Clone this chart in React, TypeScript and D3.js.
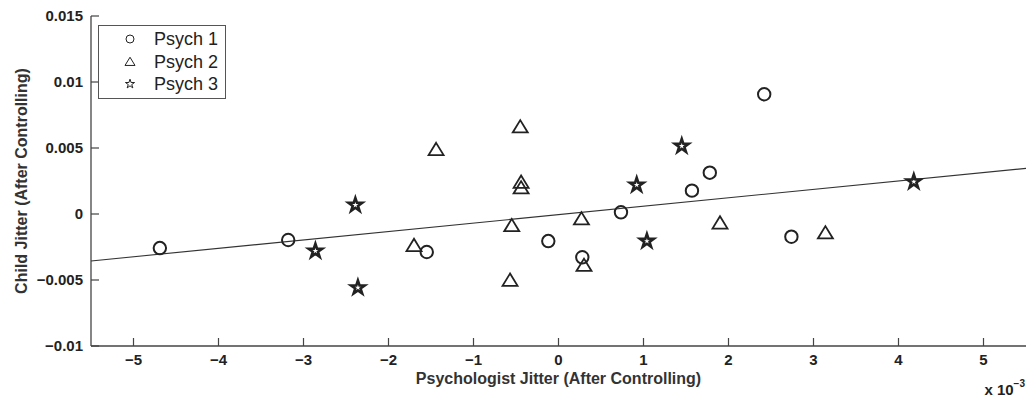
import React, { useEffect, useRef } from "react";
import * as d3 from "d3";

// values in units of 1e-3 (x) and 1e-3 (y)
const psych1X = [-4.69, -3.18, -1.55, -0.12, 0.28, 0.735, 1.57, 1.78, 2.42, 2.74];
const psych1Y = [-2.58, -1.97, -2.88, -2.05, -3.28, 0.13, 1.77, 3.13, 9.07, -1.72];

const psych2X = [-1.44, -1.7, -0.45, -0.44, -0.44, -0.55, -0.57, 0.27, 0.3, 1.9, 3.14];
const psych2Y = [4.85, -2.42, 6.57, 2.37, 1.95, -0.91, -5.05, -0.4, -3.92, -0.71, -1.46];

const psych3X = [-2.39, -2.86, -2.36, 1.45, 0.92, 1.04, 4.18];
const psych3Y = [0.68, -2.8, -5.58, 5.15, 2.2, -2.05, 2.45];

const xTicks = [-5, -4, -3, -2, -1, 0, 1, 2, 3, 4, 5];
const yTicks = [-0.01, -0.005, 0, 0.005, 0.01, 0.015];
const yTickLabels = ["\u22120.01", "\u22120.005", "0", "0.005", "0.01", "0.015"];
const seriesNames = ["Psych 1", "Psych 2", "Psych 3"];

// fitted line (x, y both in 1e-3 units)
const fitSlope = 0.638;
const fitIntercept = -0.05;

const W = 1034;
const H = 405;

function triPath(s: number) {
  const h = s * 0.82;
  return `M0,${-h * 0.58}L${s / 2},${h * 0.42}L${-s / 2},${h * 0.42}Z`;
}

export default function App() {
  const ref = useRef<SVGSVGElement>(null);

  useEffect(() => {
    const node = ref.current;
    if (!node) return;
    const svg = d3.select(node);
    svg.selectAll("*").remove();

    const m = { l: 91, r: 8, t: 16, b: 59 };
    const x = d3.scaleLinear().domain([-5.5, 5.5]).range([m.l, W - m.r]);
    const y = d3.scaleLinear().domain([-0.01, 0.015]).range([H - m.b, m.t]);
    const yk = (v: number) => y(v / 1000);

    const ink = "#222";
    const font = "Arial, 'Liberation Sans', sans-serif";

    // axes (MATLAB style, inward ticks, no box)
    const g = svg.append("g");
    g.append("line")
      .attr("x1", m.l).attr("x2", m.l)
      .attr("y1", y(0.015)).attr("y2", y(-0.01))
      .attr("stroke", "#444").attr("stroke-width", 1.3);
    g.append("line")
      .attr("x1", m.l).attr("x2", W - m.r)
      .attr("y1", y(-0.01)).attr("y2", y(-0.01))
      .attr("stroke", "#444").attr("stroke-width", 1.3);

    g.selectAll("line.yt").data(yTicks).enter().append("line")
      .attr("class", "yt")
      .attr("x1", m.l).attr("x2", m.l + 8)
      .attr("y1", d => y(d)).attr("y2", d => y(d))
      .attr("stroke", "#444").attr("stroke-width", 1.2);
    g.selectAll("text.yl").data(yTicks).enter().append("text")
      .attr("class", "yl")
      .attr("x", m.l - 8)
      .attr("y", d => y(d))
      .attr("dy", "0.35em")
      .attr("text-anchor", "end")
      .attr("font-family", font).attr("font-size", 15).attr("font-weight", "bold")
      .attr("fill", ink)
      .text((d, i) => yTickLabels[i]);

    g.selectAll("line.xt").data(xTicks).enter().append("line")
      .attr("class", "xt")
      .attr("x1", d => x(d)).attr("x2", d => x(d))
      .attr("y1", y(-0.01)).attr("y2", y(-0.01) - 8)
      .attr("stroke", "#444").attr("stroke-width", 1.2);
    g.selectAll("text.xl").data(xTicks).enter().append("text")
      .attr("class", "xl")
      .attr("x", d => x(d))
      .attr("y", y(-0.01) + 19)
      .attr("text-anchor", "middle")
      .attr("font-family", font).attr("font-size", 15).attr("font-weight", "bold")
      .attr("fill", ink)
      .text(d => (d < 0 ? "\u2212" + Math.abs(d) : String(d)));

    // multiplier
    const mult = svg.append("text")
      .attr("x", W - 9).attr("y", 395)
      .attr("text-anchor", "end")
      .attr("font-family", font).attr("font-size", 15).attr("font-weight", "bold")
      .attr("fill", ink);
    mult.append("tspan").text("x 10");
    mult.append("tspan").attr("dy", -8).attr("font-size", 10).text("\u22123");

    // axis titles
    svg.append("text")
      .attr("x", (x(-5.5) + x(5.5)) / 2)
      .attr("y", 384)
      .attr("text-anchor", "middle")
      .attr("font-family", font).attr("font-size", 16).attr("font-weight", "bold")
      .attr("fill", "#333")
      .text("Psychologist Jitter (After Controlling)");
    svg.append("text")
      .attr("transform", `translate(27, ${(y(-0.01) + y(0.015)) / 2}) rotate(-90)`)
      .attr("text-anchor", "middle")
      .attr("font-family", font).attr("font-size", 16).attr("font-weight", "bold")
      .attr("fill", "#333")
      .text("Child Jitter (After Controlling)");

    // fit line
    svg.append("line")
      .attr("x1", x(-5.5)).attr("y1", yk(fitSlope * -5.5 + fitIntercept))
      .attr("x2", x(5.5)).attr("y2", yk(fitSlope * 5.5 + fitIntercept))
      .attr("stroke", "#333").attr("stroke-width", 1.1);

    const pts = svg.append("g").attr("fill", "none").attr("stroke", ink);

    pts.selectAll("circle.p1").data(psych1X).enter().append("circle")
      .attr("class", "p1")
      .attr("cx", d => x(d))
      .attr("cy", (d, i) => yk(psych1Y[i]))
      .attr("r", 6.2)
      .attr("stroke-width", 2);

    pts.selectAll("path.p2").data(psych2X).enter().append("path")
      .attr("class", "p2")
      .attr("transform", (d, i) => `translate(${x(d)},${yk(psych2Y[i])})`)
      .attr("d", triPath(15))
      .attr("stroke-width", 1.8);

    const star = d3.symbol().type(d3.symbolStar).size(58);
    pts.selectAll("path.p3").data(psych3X).enter().append("path")
      .attr("class", "p3")
      .attr("transform", (d, i) => `translate(${x(d)},${yk(psych3Y[i])})`)
      .attr("d", star() as string)
      .attr("stroke-width", 2.6)
      .attr("stroke-linejoin", "miter");

    // legend
    const lg = svg.append("g");
    lg.append("rect")
      .attr("x", 98.5).attr("y", 25.5).attr("width", 127).attr("height", 73)
      .attr("fill", "white").attr("stroke", "#555").attr("stroke-width", 1);
    const rowY = [39, 62, 84];
    seriesNames.forEach((name, i) => {
      const cy = rowY[i];
      if (i === 0) {
        lg.append("circle").attr("cx", 130).attr("cy", cy).attr("r", 4)
          .attr("fill", "none").attr("stroke", ink).attr("stroke-width", 1);
      } else if (i === 1) {
        lg.append("path").attr("transform", `translate(130,${cy})`).attr("d", triPath(10))
          .attr("fill", "none").attr("stroke", ink).attr("stroke-width", 1);
      } else {
        lg.append("path").attr("transform", `translate(130,${cy})`)
          .attr("d", d3.symbol().type(d3.symbolStar).size(26)() as string)
          .attr("fill", "none").attr("stroke", ink).attr("stroke-width", 1);
      }
      lg.append("text")
        .attr("x", 154).attr("y", cy).attr("dy", "0.36em")
        .attr("font-family", font).attr("font-size", 18)
        .attr("fill", ink)
        .text(name);
    });
  }, []);

  return (
    <svg
      ref={ref}
      width={W}
      height={H}
      style={{ position: "absolute", left: 0, top: 0, background: "white" }}
    />
  );
}
